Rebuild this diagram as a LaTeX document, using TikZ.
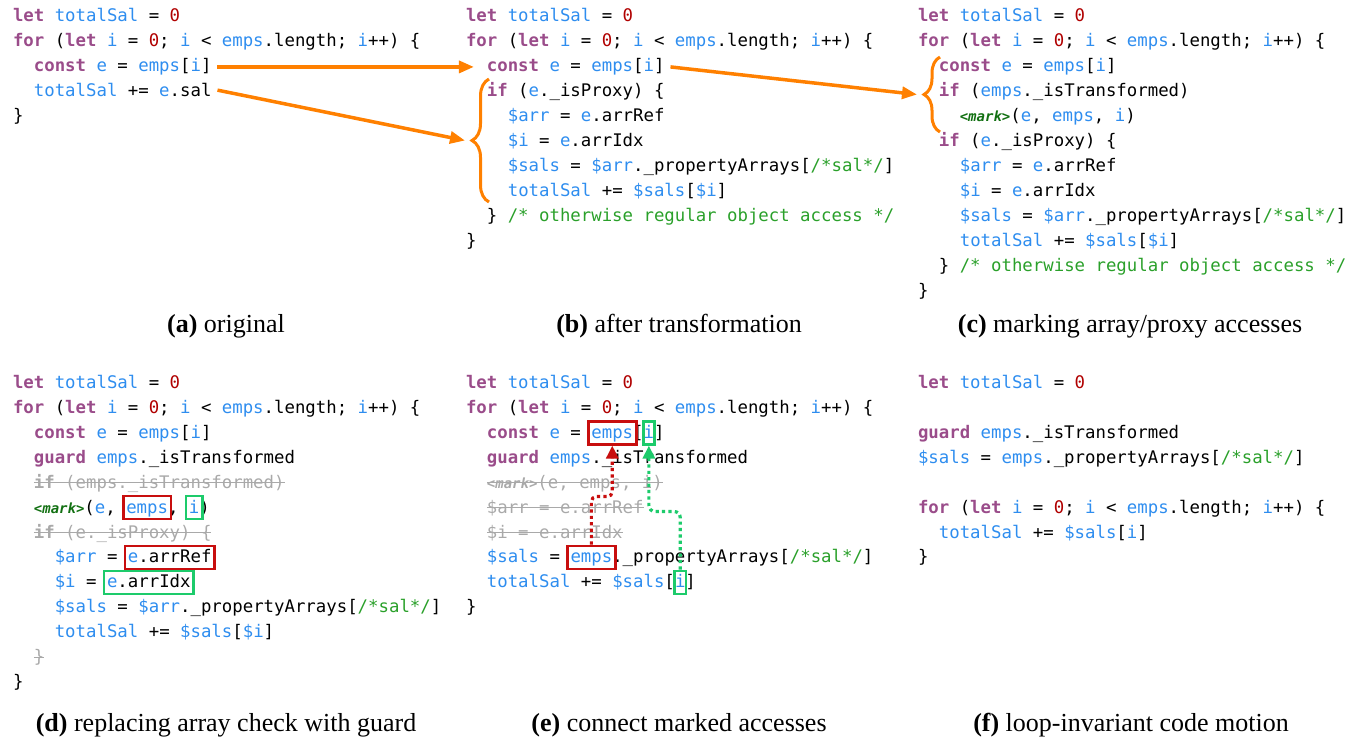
\documentclass[tikz,border=0pt]{standalone}
\usepackage{fontspec}
\setmainfont{Liberation Serif}
\newfontfamily\cf{DejaVu Sans Mono}
\usetikzlibrary{arrows.meta,decorations.pathreplacing,fit,calc}
\definecolor{kw}{HTML}{9A4C8A}
\definecolor{vb}{HTML}{2E8DEF}
\definecolor{zr}{HTML}{B00000}
\definecolor{cm}{HTML}{2AA02A}
\definecolor{mk}{HTML}{127012}
\definecolor{orng}{HTML}{FF8000}
\definecolor{bred}{HTML}{C80E0E}
\definecolor{bgrn}{HTML}{1DCB6B}
\definecolor{grayt}{HTML}{A9A9A9}
\newcommand\Kw[1]{\textcolor{kw}{\bfseries #1}}
\newcommand\Vr[1]{\textcolor{vb}{#1}}
\newcommand\Zr{\textcolor{zr}{0}}
\newcommand\Cm[1]{\textcolor{cm}{#1}}
\newcommand\MkF{\fontsize{14}{14}\selectfont\bfseries\itshape<mark>}
\newcommand\Mk{\textcolor{mk}{\MkF}}
\newcommand\Llet{\Kw{let} \Vr{totalSal} = \Zr}
\newcommand\Lfor{\Kw{for} (\Kw{let} \Vr{i} = \Zr; \Vr{i} < \Vr{emps}.length; \Vr{i}++) \{}
\newcommand\Lconst{\Kw{const} \Vr{e} = \Vr{emps}[\Vr{i}]}
\newcommand\Lif{\Kw{if} (\Vr{e}.\_isProxy) \{}
\newcommand\Larr{\Vr{\$arr} = \Vr{e}.arrRef}
\newcommand\Li{\Vr{\$i} = \Vr{e}.arrIdx}
\newcommand\Lsals{\Vr{\$sals} = \Vr{\$arr}.\_propertyArrays[\Cm{/*sal*/}]}
\newcommand\Ltot{\Vr{totalSal} += \Vr{\$sals}[\Vr{\$i}]}
\newcommand\Lclose{\} \Cm{/* otherwise regular object access */}}
\newcommand\Lift{\Kw{if} (\Vr{emps}.\_isTransformed)}
\newcommand\Lguard{\Kw{guard} \Vr{emps}.\_isTransformed}
\tikzset{
  cln/.style={anchor=base west, inner sep=0pt, outer sep=0pt, font=\cf\fontsize{17.35}{25}\selectfont},
  tok/.style={cln, text height=14pt, text depth=3pt},
  grl/.style={cln, text=grayt},
  strk/.style={draw=grayt, line width=1.4pt},
  rbx/.style={draw=bred, line width=2.8pt, inner xsep=3pt, inner ysep=3pt},
  gbx/.style={draw=bgrn, line width=2.8pt, inner xsep=3pt, inner ysep=3pt},
  capt/.style={anchor=base, inner sep=0pt, font=\fontsize{26}{30}\selectfont},
  oarr/.style={draw=orng, line width=3.5pt, -{Triangle[length=15pt,width=12pt]}},
  obr/.style={draw=orng, line width=3pt, decorate},
  rdot/.style={draw=bred, line width=3.2pt, dash pattern=on 3.2pt off 3.2pt, -{Triangle[length=13pt,width=12pt]}},
  gdot/.style={draw=bgrn, line width=3.2pt, dash pattern=on 3.2pt off 3.2pt, -{Triangle[length=13pt,width=12pt]}}
}
\begin{document}
\begin{tikzpicture}[x=1pt,y=-1pt]
\useasboundingbox (0,0) rectangle (1354,740);
% ---------- (a)
\node[cln] (a0) at (13,21.8) {\Llet};
\node[cln] (a1) at (13,46.75) {\Lfor};
\node[cln] (a2) at (33.9,71.7) {\Lconst};
\node[cln] (a3) at (33.9,96.65) {\Vr{totalSal} += \Vr{e}.sal};
\node[cln] (a4) at (13,121.6) {\}};
% ---------- (b)
\node[cln] (b0) at (466,21.8) {\Llet};
\node[cln] (b1) at (466,46.75) {\Lfor};
\node[cln] (b2) at (486.9,71.7) {\Lconst};
\node[cln] (b3) at (486.9,96.65) {\Lif};
\node[cln] (b4) at (507.8,121.6) {\Larr};
\node[cln] (b5) at (507.8,146.55) {\Li};
\node[cln] (b6) at (507.8,171.5) {\Lsals};
\node[cln] (b7) at (507.8,196.45) {\Ltot};
\node[cln] (b8) at (486.9,221.4) {\Lclose};
\node[cln] (b9) at (466,246.35) {\}};
% ---------- (c)
\node[cln] (c0) at (918,21.8) {\Llet};
\node[cln] (c1) at (918,46.75) {\Lfor};
\node[cln] (c2) at (938.9,71.7) {\Lconst};
\node[cln] (c3) at (938.9,96.65) {\Lift};
\node[cln] (c4) at (959.8,121.6) {\Mk(\Vr{e}, \Vr{emps}, \Vr{i})};
\node[cln] (c5) at (938.9,146.55) {\Lif};
\node[cln] (c6) at (959.8,171.5) {\Larr};
\node[cln] (c7) at (959.8,196.45) {\Li};
\node[cln] (c8) at (959.8,221.4) {\Lsals};
\node[cln] (c9) at (959.8,246.35) {\Ltot};
\node[cln] (c10) at (938.9,271.3) {\Lclose};
\node[cln] (c11) at (918,296.25) {\}};
% braces and orange arrows
\draw[obr, decoration={brace,amplitude=17pt}] (489,202) -- (489,79);
\coordinate (bB) at (472,140.5);
\draw[obr, decoration={brace,amplitude=16pt}] (940,132) -- (940,57);
\coordinate (cB) at (924,94.5);
\draw[oarr] ([xshift=6pt]a2.east) -- ([xshift=-13pt]b2.west);
\draw[oarr] ([xshift=6pt]a3.east) -- ([xshift=-7pt]bB);
\draw[oarr] ([xshift=6pt]b2.east) -- ([xshift=-7pt]cB);
% ---------- (d)
\node[cln] (d0) at (13,388.3) {\Llet};
\node[cln] (d1) at (13,413.25) {\Lfor};
\node[cln] (d2) at (33.9,438.2) {\Lconst};
\node[cln] (d3) at (33.9,463.15) {\Lguard};
\node[grl] (d4) at (33.9,488.1) {\textbf{if} (emps.\_isTransformed)};
\draw[strk] ($(d4.base west)+(0,-5.5)$) -- ($(d4.base east)+(0,-5.5)$);
\node[cln] (d5m) at (33.9,513.05) {\Mk};
\node[cln] (d5a) at (d5m.base east) {(\Vr{e},};
\node[tok] (d5e) at ($(d5m.base east)+(41.8,0)$) {\Vr{emps}};
\node[cln] (d5b) at (d5e.base east) {,};
\node[tok] (d5i) at ($(d5m.base east)+(104.5,0)$) {\Vr{i}};
\node[cln] (d5c) at (d5i.base east) {)};
\node[rbx, fit=(d5e)] (d5eB) {};
\node[gbx, fit=(d5i)] (d5iB) {};
\node[grl] (d6) at (33.9,538.0) {\textbf{if} (e.\_isProxy) \{};
\draw[strk] ($(d6.base west)+(0,-5.5)$) -- ($(d6.base east)+(0,-5.5)$);
\node[cln] (d7) at (54.8,562.95) {\Vr{\$arr} =};
\node[tok] (d7t) at (127.95,562.95) {\Vr{e}.arrRef};
\node[rbx, fit=(d7t)] (d7B) {};
\node[cln] (d8) at (54.8,587.9) {\Vr{\$i} =};
\node[tok] (d8t) at (107.05,587.9) {\Vr{e}.arrIdx};
\node[gbx, fit=(d8t)] (d8B) {};
\node[cln] (d9) at (54.8,612.85) {\Lsals};
\node[cln] (d10) at (54.8,637.8) {\Ltot};
\node[grl] (d11) at (33.9,662.75) {\}};
\draw[strk] ($(d11.base west)+(0,-5.5)$) -- ($(d11.base east)+(0,-5.5)$);
\node[cln] (d12) at (13,687.7) {\}};
% ---------- (e)
\node[cln] (e0) at (466,388.3) {\Llet};
\node[cln] (e1) at (466,413.25) {\Lfor};
\node[cln] (e2m) at (486.9,438.2) {\Kw{const} \Vr{e} =};
\node[tok] (e2e) at (591.4,438.2) {\Vr{emps}};
\node[cln] (e2a) at (e2e.base east) {[};
\node[tok] (e2i) at (643.65,438.2) {\Vr{i}};
\node[cln] (e2b) at (e2i.base east) {]};
\node[rbx, fit=(e2e)] (e2eB) {};
\node[gbx, inner xsep=0.5pt, fit=(e2i)] (e2iB) {};
\node[cln] (e3) at (486.9,463.15) {\Lguard};
\node[grl] (e4) at (486.9,488.1) {{\MkF}(e, emps, i)};
\draw[strk] ($(e4.base west)+(0,-5.5)$) -- ($(e4.base east)+(0,-5.5)$);
\node[grl] (e5) at (486.9,513.05) {\$arr = e.arrRef};
\draw[strk] ($(e5.base west)+(0,-5.5)$) -- ($(e5.base east)+(0,-5.5)$);
\node[grl] (e6) at (486.9,538.0) {\$i = e.arrIdx};
\draw[strk] ($(e6.base west)+(0,-5.5)$) -- ($(e6.base east)+(0,-5.5)$);
\node[cln] (e7m) at (486.9,562.95) {\Vr{\$sals} =};
\node[tok] (e7e) at (570.5,562.95) {\Vr{emps}};
\node[cln] (e7r) at (e7e.base east) {.\_propertyArrays[\Cm{/*sal*/}]};
\node[rbx, fit=(e7e)] (e7B) {};
\node[cln] (e8m) at (486.9,587.9) {\Vr{totalSal} += \Vr{\$sals}[};
\node[tok] (e8i) at (675.0,587.9) {\Vr{i}};
\node[cln] (e8r) at (e8i.base east) {]};
\node[gbx, inner xsep=0.5pt, fit=(e8i)] (e8B) {};
\node[cln] (e9) at (466,612.85) {\}};
\draw[rdot, rounded corners=5pt] (e7B.north) -- ++(0,-48) -| (e2eB.south);
\draw[gdot, rounded corners=6pt] (e8B.north) -- ++(0,-58) -| (e2iB.south);
% ---------- (f)
\node[cln] (f0) at (918,388.3) {\Llet};
\node[cln] (f2) at (918,438.2) {\Lguard};
\node[cln] (f3) at (918,463.15) {\Vr{\$sals} = \Vr{emps}.\_propertyArrays[\Cm{/*sal*/}]};
\node[cln] (f5) at (918,513.05) {\Lfor};
\node[cln] (f6) at (938.9,538.0) {\Vr{totalSal} += \Vr{\$sals}[\Vr{i}]};
\node[cln] (f7) at (918,562.95) {\}};
% ---------- captions
\node[capt] (capa) at (226,332) {\textbf{(a)} original};
\node[capt] (capb) at (679,332) {\textbf{(b)} after transformation};
\node[capt] (capc) at (1130,332) {\textbf{(c)} marking array/proxy accesses};
\node[capt] (capd) at (226,731.5) {\textbf{(d)} replacing array check with guard};
\node[capt] (cape) at (679,731.5) {\textbf{(e)} connect marked accesses};
\node[capt] (capf) at (1131,731.5) {\textbf{(f)} loop-invariant code motion};
\end{tikzpicture}
\end{document}
